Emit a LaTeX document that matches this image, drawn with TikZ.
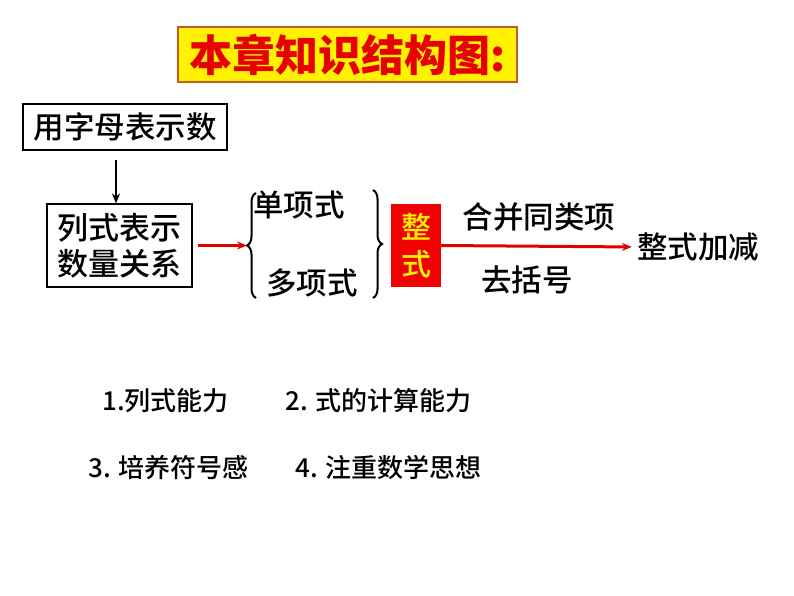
\documentclass[tikz,border=0pt]{standalone}
\usepackage{fontspec}
\setmainfont{Noto Sans CJK SC Medium}
\newfontfamily\cjkb{Noto Sans CJK SC Black}
\usetikzlibrary{arrows.meta,decorations.pathreplacing}
\definecolor{titlered}{RGB}{230,0,0}
\definecolor{titleedge}{RGB}{200,90,30}
\definecolor{boxred}{RGB}{240,0,0}
\definecolor{arrred}{RGB}{225,0,0}
\tikzset{
  plainbox/.style={draw=black,line width=1.2pt,align=center,inner sep=0pt},
  lbl/.style={font=\fontsize{30.5}{32}\selectfont,inner sep=0pt},
  item/.style={font=\fontsize{26}{28}\selectfont,inner sep=0pt,anchor=west},
  blackarrow/.style={-{Stealth[length=10pt,width=8pt]},line width=2.4pt},
  redarrow/.style={-{Stealth[length=10pt,width=8pt]},line width=3pt,draw=arrred},
  bracestyle/.style={decorate,decoration={brace,amplitude=9pt},line width=2pt}
}
\begin{document}
\begin{tikzpicture}[x=1pt,y=-1pt]
\useasboundingbox (0,0) rectangle (794,596);
% title
\node[draw=titleedge,fill=yellow,line width=1.5pt,minimum width=339pt,minimum height=55pt,inner sep=0pt] (title) at (347.5,54.5) {};
\node[text=titlered,font=\cjkb\fontsize{43}{44}\selectfont,inner sep=0pt] (titletext) at (title.center) {本章知识结构图:};
% top boxes
\node[plainbox,minimum width=204pt,minimum height=46pt] (b1) at (125,127) {};
\node[lbl] (b1t) at (b1.center) {用字母表示数};
\node[plainbox,minimum width=145pt,minimum height=83pt] (b2) at (119.5,245.5) {};
\node[lbl,align=center,font=\fontsize{31}{36}\selectfont] (b2t) at (b2.center) {列式表示\\数量关系};
\coordinate (a1s) at (116,160);
\draw[blackarrow] (a1s) -- (b2.north -| a1s);
% braces
\coordinate (lbtop) at (256,193);
\coordinate (lbbot) at (256,298);
\draw[bracestyle] (lbbot) -- (lbtop);
\coordinate (lbtip) at (247,245.5);
\draw[redarrow,shorten <=5pt] (b2.east) -- (lbtip);
\node[lbl] (mono) at (299,205) {单项式};
\node[lbl] (poly) at (312,283) {多项式};
\coordinate (rbtop) at (373,190);
\coordinate (rbbot) at (373,298);
\draw[bracestyle] (rbtop) -- (rbbot);
% red box
\node[fill=boxred,minimum width=50pt,minimum height=83pt,inner sep=0pt] (zs) at (416,245.5) {};
\node[text=yellow,font=\fontsize{30}{37}\selectfont,align=center,inner sep=0pt] (zst) at (zs.center) {整\\式};
\node[lbl] (res) at (698,247) {整式加减};
\draw[redarrow,shorten >=5pt] (zs.east) -- (res.west);
\node[lbl] (hb) at (539,217) {合并同类项};
\node[lbl] (qk) at (527,280) {去括号};
% items
\node[item] (i1) at (102,401) {1.列式能力};
\node[item] (i2) at (285,401) {2. 式的计算能力};
\node[item] (i3) at (88,468) {3. 培养符号感};
\node[item] (i4) at (295,468) {4. 注重数学思想};
\end{tikzpicture}
\end{document}
